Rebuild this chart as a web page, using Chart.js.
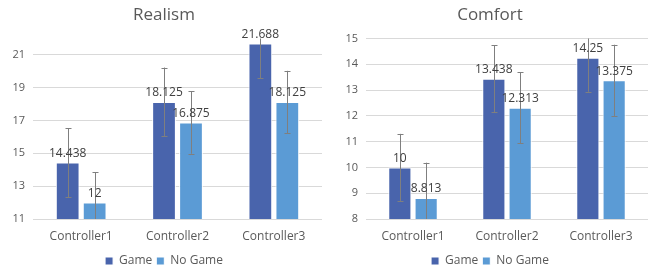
<!DOCTYPE html>
<html>
<head>
<meta charset="utf-8">
<script src="https://cdn.jsdelivr.net/npm/chart.js@4"></script>
<style>
  html,body{margin:0;padding:0;background:#fff;}
  .wrap{display:flex;width:652px;height:270px;}
  .box{position:relative;width:326px;height:270px;}
</style>
</head>
<body>
<div class="wrap">
  <div class="box"><canvas id="c-real"></canvas></div>
  <div class="box"><canvas id="c-comf"></canvas></div>
</div>
<script>
// ── data ──
const CATS = ['Controller1','Controller2','Controller3'];
const SERIES = ['Game','No Game'];

const REAL_GAME = [14.438, 18.125, 21.688];
const REAL_NOGAME = [12, 16.875, 18.125];
const REAL_GAME_ERR = [2.1, 2.1, 2.1];
const REAL_NOGAME_ERR = [1.85, 1.9, 1.9];
const REAL_TICKS = [11, 13, 15, 17, 19, 21];

const COMF_GAME = [10, 13.438, 14.25];
const COMF_NOGAME = [8.813, 12.313, 13.375];
const COMF_GAME_ERR = [1.3, 1.3, 1.32];
const COMF_NOGAME_ERR = [1.37, 1.38, 1.38];
const COMF_TICKS = [8, 9, 10, 11, 12, 13, 14, 15];

const FONT = "'Open Sans', 'Noto Sans', sans-serif";
const COLORS = ['#4964ac','#5b9bd5'];

// error bars, clipped to plot area
const errPlugin = {
  id:'errbars',
  afterDatasetsDraw(chart){
    const {ctx, chartArea:ca, scales:{y}} = chart;
    ctx.save();
    ctx.beginPath(); ctx.rect(ca.left, ca.top, ca.width, ca.height); ctx.clip();
    ctx.strokeStyle = '#7f7f7f'; ctx.lineWidth = 1;
    chart.data.datasets.forEach((ds,di)=>{
      const meta = chart.getDatasetMeta(di);
      meta.data.forEach((bar,i)=>{
        const v = ds.data[i], e = ds.err[i];
        const x = Math.round(bar.x)+0.5;
        const yt = y.getPixelForValue(v+e), yb = y.getPixelForValue(v-e);
        ctx.beginPath();
        ctx.moveTo(x,yt); ctx.lineTo(x,yb);
        ctx.moveTo(x-3,Math.round(yt)+0.5); ctx.lineTo(x+3,Math.round(yt)+0.5);
        ctx.moveTo(x-3,Math.round(yb)+0.5); ctx.lineTo(x+3,Math.round(yb)+0.5);
        ctx.stroke();
      });
    });
    ctx.restore();
  }
};

// value labels above bars
const lblPlugin = {
  id:'vlabels',
  afterDatasetsDraw(chart){
    const {ctx} = chart;
    ctx.save();
    ctx.font = '12px '+FONT;
    ctx.fillStyle = '#404040';
    ctx.textAlign = 'center'; ctx.textBaseline = 'bottom';
    chart.data.datasets.forEach((ds,di)=>{
      chart.getDatasetMeta(di).data.forEach((bar,i)=>{
        ctx.fillText(String(ds.data[i]), bar.x, bar.y-3);
      });
    });
    ctx.restore();
  }
};

function mkChart(id, title, game, nogame, gErr, nErr, yMin, yMax, ticks, yW){
  return new Chart(document.getElementById(id), {
    type:'bar',
    data:{labels:CATS, datasets:[
      {label:SERIES[0], data:game, err:gErr, backgroundColor:COLORS[0], borderColor:'#fff', borderWidth:1},
      {label:SERIES[1], data:nogame, err:nErr, backgroundColor:COLORS[1], borderColor:'#fff', borderWidth:1}
    ]},
    options:{
      responsive:true, maintainAspectRatio:false, animation:false,
      layout:{padding:{left:6,right:4,top:5,bottom:-7}},
      datasets:{bar:{categoryPercentage:0.56, barPercentage:0.88}},
      plugins:{
        title:{display:true, text:title, color:'#595959', font:{family:FONT,size:17,weight:'normal'}, padding:{top:0,bottom:13}},
        legend:{position:'bottom', labels:{color:'#595959', font:{family:FONT,size:12}, boxWidth:8, boxHeight:8, padding:4}},
        tooltip:{enabled:false}
      },
      scales:{
        x:{grid:{display:false}, border:{display:false},
           ticks:{color:'#595959', font:{family:FONT,size:12}, padding:2},
           afterFit:s=>{s.height=32;}},
        y:{min:yMin, max:yMax,
           grid:{color:'#d9d9d9', drawTicks:false}, border:{display:false},
           ticks:{color:'#595959', font:{family:FONT,size:11}, padding:8},
           afterBuildTicks:s=>{s.ticks = ticks.map(v=>({value:v}));},
           afterFit:s=>{s.width=yW;}}
      }
    },
    plugins:[errPlugin, lblPlugin]
  });
}

mkChart('c-real','Realism',REAL_GAME,REAL_NOGAME,REAL_GAME_ERR,REAL_NOGAME_ERR,11,22,REAL_TICKS,27);
mkChart('c-comf','Comfort',COMF_GAME,COMF_NOGAME,COMF_GAME_ERR,COMF_NOGAME_ERR,8,15,COMF_TICKS,34);
</script>
</body>
</html>
